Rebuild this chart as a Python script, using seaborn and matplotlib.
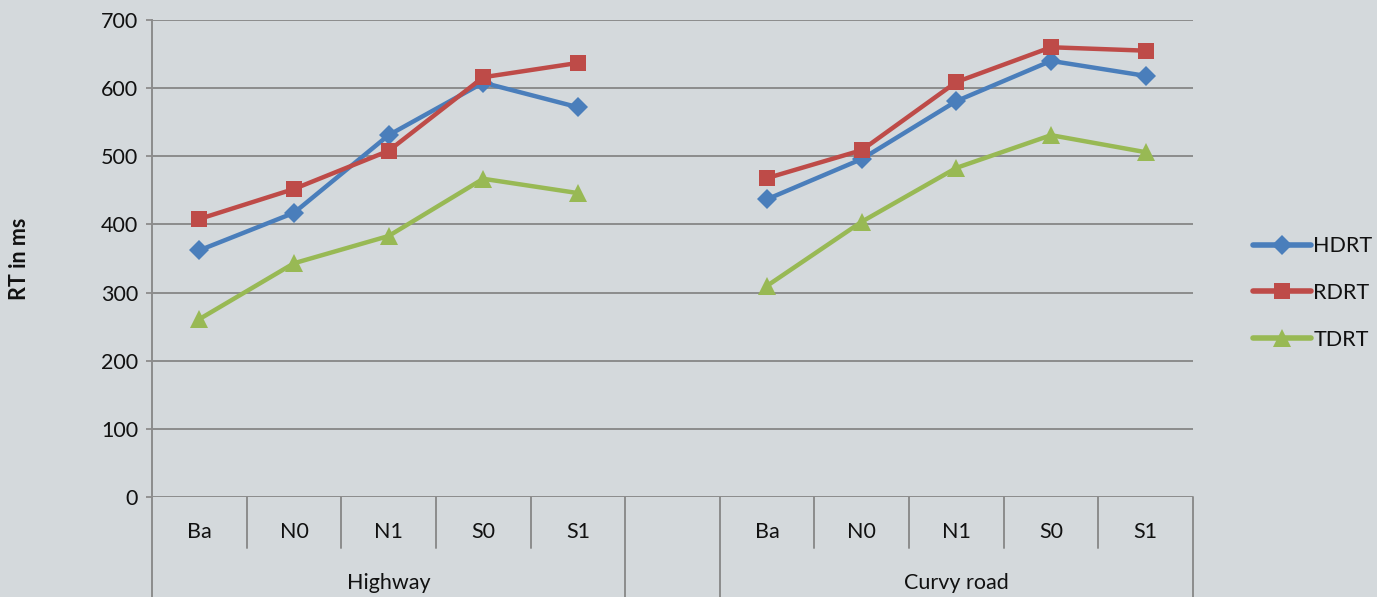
import matplotlib
matplotlib.use("Agg")
import matplotlib.pyplot as plt
import matplotlib.transforms as mtransforms
import seaborn as sns
import pandas as pd
import numpy as np

conditions = ["Ba", "N0", "N1", "S0", "S1"]
roads = ["Highway", "Curvy road"]
series = ["HDRT", "RDRT", "TDRT"]

hdrt_highway = [362, 417, 531, 608, 572]
rdrt_highway = [408, 452, 508, 616, 637]
tdrt_highway = [261, 343, 383, 467, 446]
hdrt_curvy = [437, 496, 581, 640, 618]
rdrt_curvy = [468, 509, 609, 660, 655]
tdrt_curvy = [310, 404, 483, 531, 506]

yticks = [0, 100, 200, 300, 400, 500, 600, 700]

values = {
    ("Highway", "HDRT"): hdrt_highway,
    ("Highway", "RDRT"): rdrt_highway,
    ("Highway", "TDRT"): tdrt_highway,
    ("Curvy road", "HDRT"): hdrt_curvy,
    ("Curvy road", "RDRT"): rdrt_curvy,
    ("Curvy road", "TDRT"): tdrt_curvy,
}

rows = []
for gi, road in enumerate(roads):
    for s in series:
        for ci, c in enumerate(conditions):
            rows.append({"road": road, "series": s, "cond": c,
                         "pos": gi * (len(conditions) + 1) + ci,
                         "value": values[(road, s)][ci]})
df = pd.DataFrame(rows)

sns.set_theme(style="white")
plt.rcParams["font.family"] = ["Lato", "DejaVu Sans"]

bg = "#D4D9DC"
grid_c = "#8C8C8C"
txt_c = "#111111"
fs = 15.5
palette = {"HDRT": "#4A7EBB", "RDRT": "#BE4B48", "TDRT": "#98B954"}
markers = {"HDRT": "D", "RDRT": "s", "TDRT": "^"}
msizes = {"HDRT": 10, "RDRT": 11.5, "TDRT": 12.5}

fig = plt.figure(figsize=(13.77, 5.97), dpi=100, facecolor=bg)
ax = fig.add_axes([152/1377, 1-497/597, (1193-152)/1377, 477/597])
ax.set_facecolor(bg)

for road in roads:
    for s in series:
        sub = df[(df.road == road) & (df.series == s)]
        sns.lineplot(data=sub, x="pos", y="value", ax=ax, color=palette[s],
                     marker=markers[s], markersize=msizes[s], linewidth=3.2,
                     markeredgewidth=0, label=s if road == roads[0] else None,
                     legend=False, zorder=3)

ncat = len(conditions) * 2 + 1
ax.set_xlim(-0.5, ncat - 0.5)
ax.set_ylim(0, 700)
ax.set_yticks(yticks)
ax.set_yticklabels([str(t) for t in yticks], fontsize=fs, color=txt_c)
ax.tick_params(axis="y", length=4, width=1.3, color=grid_c, pad=6, left=True)
ax.set_xticks([])
ax.set_xlabel("")
ax.set_ylabel("RT in ms", fontsize=fs, fontweight="bold", color=txt_c)
ax.yaxis.set_label_coords((30 - 152) / 1041, 0.5)
for t in yticks:
    ax.axhline(t, color=grid_c, lw=1.4, zorder=1)
for sp in ["top", "right", "bottom"]:
    ax.spines[sp].set_visible(False)
ax.spines["left"].set_color(grid_c)
ax.spines["left"].set_linewidth(1.4)

trans = mtransforms.blended_transform_factory(ax.transData, ax.transAxes)
short = -51/477
long_ = -105/477
for gi in range(2):
    base = gi * (len(conditions) + 1)
    for ci, c in enumerate(conditions):
        ax.text(base + ci, -35/477, c, transform=trans, ha="center", va="center",
                fontsize=fs, color=txt_c)
        if ci > 0:
            ax.plot([base + ci - 0.5] * 2, [0, short], transform=trans, color=grid_c,
                    lw=1.4, clip_on=False)
    ax.text(base + 2, -86/477, roads[gi], transform=trans, ha="center", va="center",
            fontsize=fs, color=txt_c)
    for xb in [base - 0.5, base + len(conditions) - 0.5]:
        ax.plot([xb, xb], [0, long_], transform=trans, color=grid_c, lw=1.4, clip_on=False)

handles, labels = ax.get_legend_handles_labels()
leg = fig.legend(handles, labels, loc="center left", bbox_to_anchor=(1253/1377, 1-293/597),
                 bbox_transform=fig.transFigure, frameon=False, fontsize=fs,
                 handlelength=2.7, handletextpad=0.1, labelspacing=1.25,
                 borderpad=0, borderaxespad=0)
for line in leg.get_lines():
    line.set_linewidth(4)
for t in leg.get_texts():
    t.set_color(txt_c)

fig.savefig("out.png", dpi=100, facecolor=bg)
